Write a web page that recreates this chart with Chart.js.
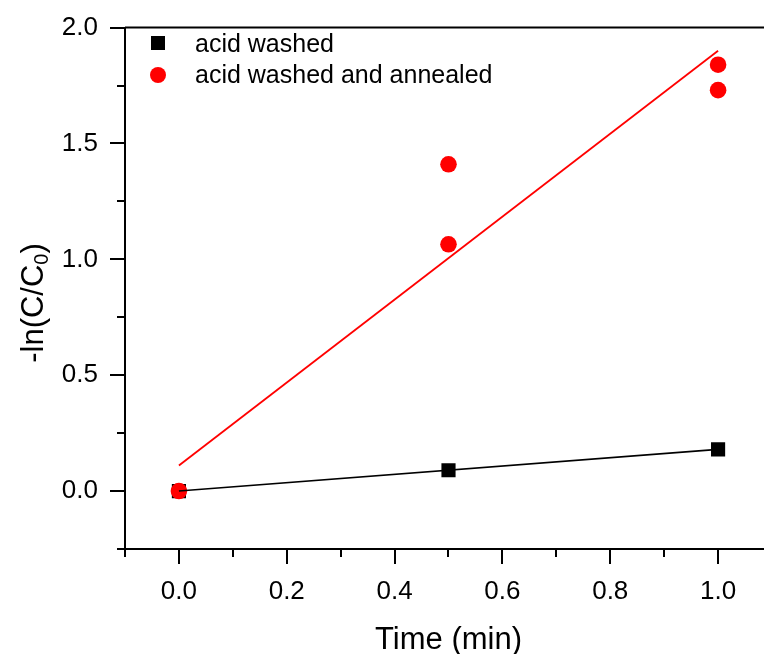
<!DOCTYPE html>
<html>
<head>
    <script src="https://cdn.jsdelivr.net/npm/chart.js"></script>
    <style>
        body { margin: 0; background: #fff; overflow: hidden; }
    </style>
</head>
<body>
    <canvas id="kinetics" width="790" height="654"></canvas>
    <script>
        // measured points
        const washedTimes = [0, 0.5, 1.0];
        const washedVals = [0, 0.09, 0.18];
        const annealedTimes = [0, 0.5, 0.5, 1.0, 1.0];
        const annealedVals = [0, 1.41, 1.065, 1.84, 1.73];

        // linear fits
        const fitTimes = [0, 1.0];
        const washedFit = [0, 0.18];
        const annealedFit = [0.11, 1.90];

        const xMajor = [0, 0.2, 0.4, 0.6, 0.8, 1.0];
        const xMinor = [-0.1, 0.1, 0.3, 0.5, 0.7, 0.9, 1.1];
        const yMajor = [0, 0.5, 1.0, 1.5, 2.0];
        const yMinor = [-0.25, 0.25, 0.75, 1.25, 1.75];

        const FONT = "'Liberation Sans', Arial, sans-serif";

        const pts = (xs, ys) => xs.map((x, i) => ({ x: x, y: ys[i] }));

        // short ticks, top frame line, legend and the y title with subscript
        const decorations = {
            id: 'decorations',
            afterDraw(chart) {
                const ctx = chart.ctx;
                const a = chart.chartArea;
                const xs = chart.scales.x, ys = chart.scales.y;
                ctx.save();
                ctx.strokeStyle = '#000';
                ctx.lineWidth = 2;
                ctx.beginPath();
                ctx.moveTo(a.left, a.top);
                ctx.lineTo(a.right, a.top);
                xMinor.forEach(v => {
                    const px = Math.round(xs.getPixelForValue(v));
                    ctx.moveTo(px, a.bottom);
                    ctx.lineTo(px, a.bottom + 8);
                });
                yMinor.forEach(v => {
                    const py = Math.round(ys.getPixelForValue(v));
                    ctx.moveTo(a.left, py);
                    ctx.lineTo(a.left - 8, py);
                });
                ctx.stroke();

                // legend
                ctx.fillStyle = '#000';
                ctx.fillRect(151, 36, 14, 14);
                ctx.fillStyle = '#ff0000';
                ctx.beginPath();
                ctx.arc(158, 75, 8, 0, Math.PI * 2);
                ctx.fill();
                ctx.fillStyle = '#000';
                ctx.font = '25px ' + FONT;
                ctx.textAlign = 'left';
                ctx.textBaseline = 'alphabetic';
                ctx.fillText('acid washed', 195, 51.5);
                ctx.fillText('acid washed and annealed', 195, 83);

                // -ln(C/C0)
                ctx.translate(43, 303);
                ctx.rotate(-Math.PI / 2);
                const big = '31px ' + FONT, small = '20px ' + FONT;
                ctx.font = big;
                const p1 = '-ln(C/C', p3 = ')';
                const w1 = ctx.measureText(p1).width, w3 = ctx.measureText(p3).width;
                ctx.font = small;
                const w2 = ctx.measureText('0').width;
                let x0 = -(w1 + w2 + w3) / 2;
                ctx.font = big;
                ctx.fillText(p1, x0, 0);
                ctx.font = small;
                ctx.fillText('0', x0 + w1, 5);
                ctx.font = big;
                ctx.fillText(p3, x0 + w1 + w2, 0);
                ctx.restore();
            }
        };

        const axisGrid = {
            display: true,
            drawOnChartArea: false,
            drawTicks: true,
            tickLength: 15,
            color: '#000',
            lineWidth: 2
        };

        new Chart(document.getElementById('kinetics').getContext('2d'), {
            type: 'scatter',
            data: {
                datasets: [
                    {
                        label: 'acid washed',
                        data: pts(washedTimes, washedVals),
                        pointStyle: 'rect',
                        pointRadius: 10,
                        backgroundColor: '#000',
                        borderWidth: 0,
                        order: 4
                    },
                    {
                        label: 'acid washed and annealed',
                        data: pts(annealedTimes, annealedVals),
                        pointStyle: 'circle',
                        pointRadius: 8.3,
                        backgroundColor: '#ff0000',
                        borderWidth: 0,
                        order: 3
                    },
                    {
                        type: 'line',
                        label: 'fit washed',
                        data: pts(fitTimes, washedFit),
                        borderColor: '#000',
                        borderWidth: 1.6,
                        pointRadius: 0,
                        order: 1
                    },
                    {
                        type: 'line',
                        label: 'fit annealed',
                        data: pts(fitTimes, annealedFit),
                        borderColor: '#ff0000',
                        borderWidth: 1.8,
                        pointRadius: 0,
                        order: 2
                    }
                ]
            },
            options: {
                responsive: false,
                animation: false,
                layout: { padding: { top: 26, right: 18, left: 0, bottom: 0 } },
                plugins: {
                    legend: { display: false },
                    tooltip: { enabled: false }
                },
                scales: {
                    x: {
                        type: 'linear',
                        min: -0.1,
                        max: 1.1,
                        grid: axisGrid,
                        border: { display: true, color: '#000', width: 2 },
                        ticks: {
                            padding: 12,
                            color: '#000',
                            font: { family: FONT, size: 26 },
                            callback: v => v.toFixed(1)
                        },
                        title: {
                            display: true,
                            text: 'Time (min)',
                            color: '#000',
                            font: { family: FONT, size: 31 },
                            padding: { top: 10, bottom: -5 }
                        },
                        afterBuildTicks: s => { s.ticks = xMajor.map(v => ({ value: v })); },
                        afterFit: s => { s.height = 105; }
                    },
                    y: {
                        type: 'linear',
                        min: -0.25,
                        max: 2.0,
                        grid: axisGrid,
                        border: { display: true, color: '#000', width: 2 },
                        ticks: {
                            padding: 12,
                            color: '#000',
                            font: { family: FONT, size: 26 },
                            callback: v => v.toFixed(1)
                        },
                        afterBuildTicks: s => { s.ticks = yMajor.map(v => ({ value: v })); },
                        afterFit: s => { s.width = 125; }
                    }
                }
            },
            plugins: [decorations]
        });
    </script>
</body>
</html>
